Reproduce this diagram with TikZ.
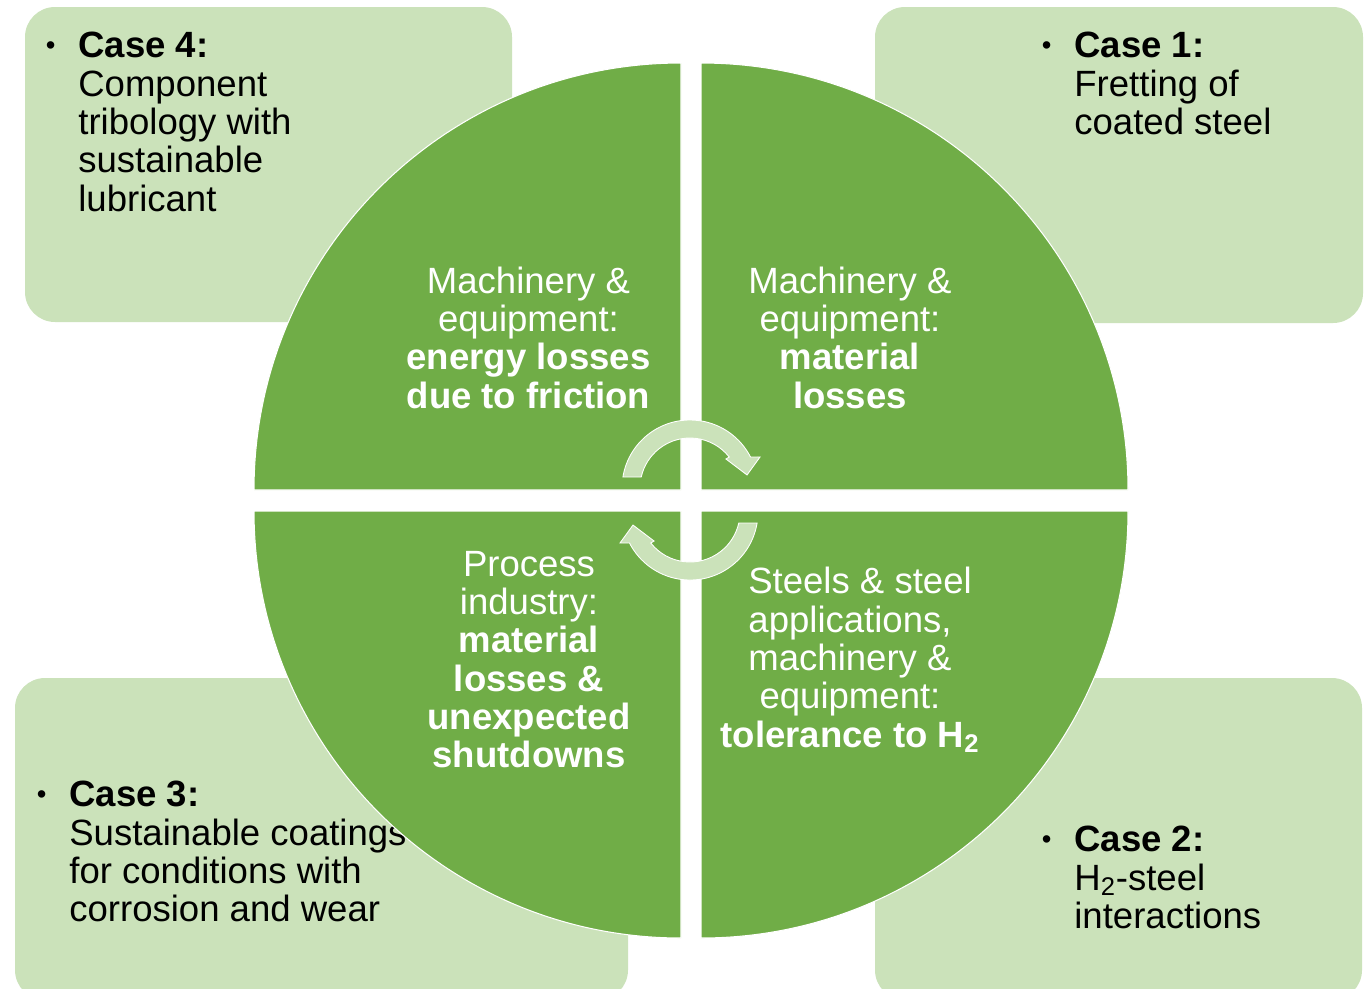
\documentclass[tikz,border=0pt]{standalone}
\usepackage{fontspec}
\setmainfont{Liberation Sans}
\definecolor{casegreen}{HTML}{CBE2BA}
\definecolor{piegreen}{HTML}{70AD47}
\newcommand{\casebullet}{\llap{\raisebox{0.1em}{\scalebox{0.75}{\textbullet}}\hspace{13pt}}}
\begin{document}
\begin{tikzpicture}[x=0.02cm,y=-0.02cm]
    \tikzstyle{casebox}=[fill=casegreen, rounded corners=0.6cm]
    \tikzstyle{quarter}=[fill=piegreen, draw=white, line width=0.6pt]
    \tikzstyle{cyclearrow}=[fill=casegreen, draw=white, line width=0.5pt]
    \tikzstyle{casetext}=[anchor=north west, align=left, inner sep=0pt, font=\fontsize{20.8}{21.8}\selectfont]
    \tikzstyle{pietext}=[align=center, inner sep=0pt, text=white, font=\fontsize{20.8}{21.8}\selectfont]
    \clip (0,0) rectangle (1371,988);
    % case boxes
    \fill[casebox] (25,7) rectangle (512,322);
    \fill[casebox] (875,7) rectangle (1363,323);
    \fill[casebox] (15,678) rectangle (628,1000);
    \fill[casebox] (875,678) rectangle (1362,1000);
    \node[casetext] (c4) at (78,32) {\casebullet\textbf{Case 4:}\\Component\\tribology with\\sustainable\\lubricant};
    \node[casetext] (c1) at (1074,32) {\casebullet\textbf{Case 1:}\\Fretting of\\coated steel};
    \node[casetext] (c3) at (69,781) {\casebullet\textbf{Case 3:}\\Sustainable coatings\\for conditions with\\corrosion and wear};
    \node[casetext] (c2) at (1074,826) {\casebullet\textbf{Case 2:}\\H\textsubscript{2}-steel\\interactions};
    % four quarters of the disc
    \filldraw[quarter] (681,490) -- ++(-427,0) arc[start angle=180, end angle=270, radius=427] -- cycle;
    \filldraw[quarter] (701,490) -- ++(0,-427) arc[start angle=270, end angle=360, radius=427] -- cycle;
    \filldraw[quarter] (701,511) -- ++(427,0) arc[start angle=0, end angle=90, radius=427] -- cycle;
    \filldraw[quarter] (681,511) -- ++(0,427) arc[start angle=90, end angle=180, radius=427] -- cycle;
    \node[pietext] (q4) at (528.5,337.5) {Machinery \&\\equipment:\\\textbf{energy losses}\\\textbf{due to friction}};
    \node[pietext] (q1) at (850,337.5) {Machinery \&\\equipment:\\\textbf{material}\\\textbf{losses}};
    \node[pietext] (q3) at (529,659.5) {Process\\industry:\\\textbf{material}\\\textbf{losses \&}\\\textbf{unexpected}\\\textbf{shutdowns}};
    \node[pietext] (q2) at (850,660) {\hspace*{0.4cm}Steels \& steel\\applications,\\machinery \&\\equipment:\\\textbf{tolerance to H\textsubscript{2}}};
    % circular arrows
    \begin{scope}[shift={(690,488)}, yscale=-1]
        \filldraw[cyclearrow] (170.7:68) arc[start angle=170.7, end angle=27.1, radius=68]
            -- (23.9:76.6) -- (12.9:58.5) -- (38.9:46.2) -- (38.3:50)
            arc[start angle=38.3, end angle=167.3, radius=50] -- cycle;
    \end{scope}
    \begin{scope}[shift={(690,512)}, yscale=-1, rotate=180]
        \filldraw[cyclearrow] (170.7:68) arc[start angle=170.7, end angle=27.1, radius=68]
            -- (23.9:76.6) -- (12.9:58.5) -- (38.9:46.2) -- (38.3:50)
            arc[start angle=38.3, end angle=167.3, radius=50] -- cycle;
    \end{scope}
\end{tikzpicture}
\end{document}
